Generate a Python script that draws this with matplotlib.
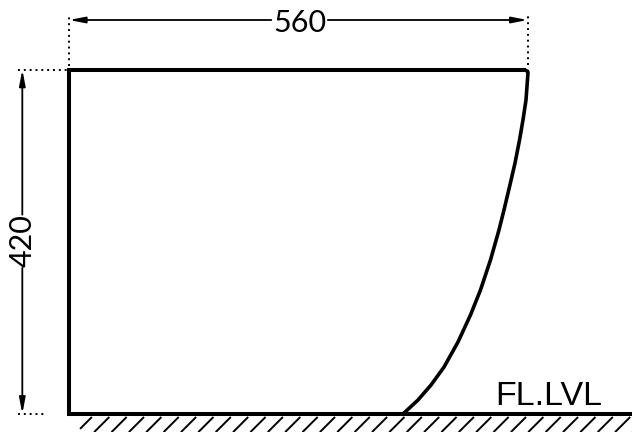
import matplotlib
matplotlib.use("Agg")
import matplotlib.pyplot as plt
import numpy as np

plt.rcParams['font.family'] = ['Liberation Sans', 'DejaVu Sans']

# drawing values in mm, origin at the floor / wall corner
width_mm = 560
height_mm = 420
width_label = "560"
height_label = "420"
floor_label = "FL.LVL"
# rear profile of the body, top to floor
profile_x = [556, 560, 560.4, 558, 554.3, 550.1, 544.6, 537.8, 531.1, 525, 514.6,
             502.4, 490.2, 475, 457.9, 442, 426.1, 410.3, 408]
profile_y = [420, 418, 416, 383, 358.6, 334.2, 306.1, 276.8, 248.7, 224.3, 187.6,
             151, 120.5, 87.6, 57, 35, 16.7, 2, 0]

# 0.82 px per mm, corner sits at pixel (69, 413.7)
px_per_mm = 0.819
x0, y0 = 69, 413.7

fig = plt.figure(figsize=(6.32, 4.32), dpi=100)
ax = fig.add_axes([0, 0, 1, 1])
ax.set_xlim(-x0 / px_per_mm, (632 - x0) / px_per_mm)
ax.set_ylim(-(432 - y0) / px_per_mm, y0 / px_per_mm)
ax.axis('off')

# body outline
ax.plot([556, 0, 0], [height_mm, height_mm, 0], color='k', lw=2.9,
        solid_joinstyle='miter', solid_capstyle='projecting')
ax.plot(profile_x, profile_y, color='k', lw=2.6, solid_capstyle='round',
        solid_joinstyle='round')

# floor line and hatching
ax.plot([0, ax.get_xlim()[1]], [0, 0], color='k', lw=2.9, solid_capstyle='butt')
hatch_h = 18.5
hatch_dx = 18.5
for top in np.arange(28, 720, 21.2):
    bottom = max(top - hatch_dx, 13.5)
    ax.plot([bottom, top], [-4 - hatch_h * (top - bottom) / hatch_dx, -4], color='k',
            lw=1.4, solid_capstyle='butt')


def dim_arrow(start, end):
    ax.annotate('', xy=end, xytext=start,
                arrowprops=dict(arrowstyle='-|>,head_length=0.72,head_width=0.14',
                                mutation_scale=13, color='k', lw=1.3,
                                shrinkA=0, shrinkB=0))


# extension lines
dots = dict(color='k', lw=1.4, ls=(0, (1, 2)))
ax.plot([0, 0], [424, 487], **dots)
ax.plot([width_mm, width_mm], [426, 487], **dots)
ax.plot([-62, -2], [height_mm, height_mm], **dots)
ax.plot([-62, -28], [0, 0], **dots)

# width dimension
dim_y = 480.7
dim_arrow((247, dim_y), (0, dim_y))
dim_arrow((316, dim_y), (width_mm, dim_y))
ax.text(width_mm / 2 + 2, dim_y, width_label, family='Lato',
        fontsize=22, ha='center', va='center_baseline')

# height dimension
dim_x = -57
dim_arrow((dim_x, 243), (dim_x, height_mm))
dim_arrow((dim_x, 178), (dim_x, 0))
ax.text(dim_x, 211, height_label, family='Lato', fontsize=22,
        rotation=90, ha='center', va='center', rotation_mode='anchor')

ax.text(586, 10.6, floor_label, family='Liberation Sans', fontsize=24.5,
        ha='center', va='baseline')

fig.savefig("out.png", dpi=100)
